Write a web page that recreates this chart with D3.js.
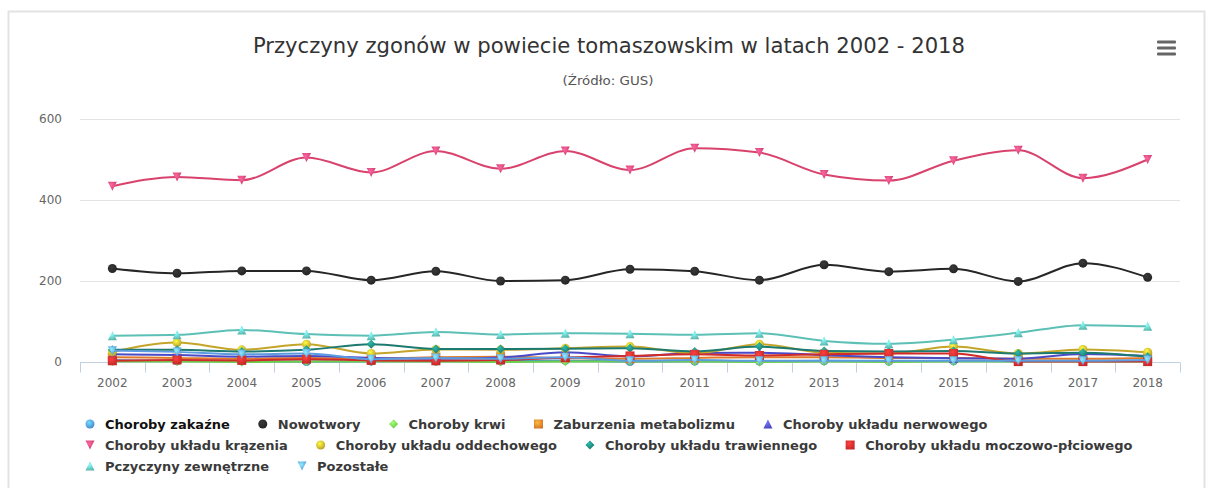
<!DOCTYPE html>
<html lang="pl">
<head>
<meta charset="utf-8">
<title>Przyczyny zgonów</title>
<script src="https://cdn.jsdelivr.net/npm/d3@7"></script>
<style>
  body { margin: 0; background: #fff; }
  svg { display: block; }
</style>
</head>
<body>
<script>
// Data
var years = ["2002","2003","2004","2005","2006","2007","2008","2009","2010","2011","2012","2013","2014","2015","2016","2017","2018"];
var yTicks = [0, 200, 400, 600];

var seriesNames = ["Choroby zakaźne", "Nowotwory", "Choroby krwi", "Zaburzenia metabolizmu", "Choroby układu nerwowego",
  "Choroby układu krązenia", "Choroby układu oddechowego", "Choroby układu trawiennego", "Choroby układu moczowo-płciowego",
  "Pczyczyny zewnętrzne", "Pozostałe"];

var zakazne      = [5, 3, 3, 1, 2, 2, 3, 4, 1, 2, 2, 3, 2, 3, 2, 3, 3];
var nowotwory    = [231, 219, 225, 225, 202, 224, 200, 202, 229, 224, 202, 240, 223, 230, 199, 244, 209];
var krwi         = [1, 1, 0, 1, 1, 1, 0, 1, 1, 1, 0, 1, 0, 1, 1, 1, 1];
var metabolizm   = [12, 10, 8, 10, 8, 12, 13, 10, 8, 10, 12, 12, 10, 10, 8, 8, 10];
var nerwowy      = [19, 17, 13, 15, 10, 8, 11, 24, 14, 22, 23, 17, 12, 9, 8, 20, 15];
var krazenie     = [434, 457, 449, 505, 468, 521, 477, 521, 474, 528, 517, 463, 448, 497, 523, 454, 500];
var oddechowy    = [25, 48, 30, 44, 21, 31, 30, 34, 38, 21, 44, 23, 21, 38, 21, 31, 24];
var trawienny    = [30, 30, 26, 30, 44, 32, 32, 33, 34, 26, 38, 27, 26, 27, 21, 23, 13];
var moczowy      = [3, 5, 4, 7, 4, 3, 5, 11, 15, 19, 16, 19, 21, 21, 1, 1, 1];
var zewnetrzne   = [65, 67, 79, 69, 65, 74, 68, 71, 70, 67, 71, 52, 45, 55, 72, 91, 88];
var pozostale    = [28, 25, 19, 21, 7, 10, 8, 12, 3, 5, 3, 3, 3, 3, 3, 3, 5];

var seriesValues = [zakazne, nowotwory, krwi, metabolizm, nerwowy, krazenie, oddechowy, trawienny, moczowy, zewnetrzne, pozostale];
var seriesColors = ["#4a8fd8", "#262626", "#6ccf4a", "#e07a2a", "#4a4ac8", "#d8426c", "#c4a52a", "#1d7a70", "#d02a2a", "#5cc0b6", "#5b9be0"];
var seriesSymbols = ["circle", "circle", "diamond", "square", "triangle", "triangle-down", "circle", "diamond", "square", "triangle", "triangle-down"];

var W = 1210, H = 488;
var svg = d3.select("body").append("svg").attr("width", W).attr("height", H)
  .style("font-family", "'DejaVu Sans', sans-serif");

// frame
svg.append("rect").attr("x", 8.5).attr("y", 11.5).attr("width", 1196).attr("height", 500)
  .attr("fill", "#fff").attr("stroke", "#e3e3e3").attr("stroke-width", 2);

// gradients for markers
var defs = svg.append("defs");
seriesColors.forEach(function(c, i) {
  var g = defs.append("radialGradient").attr("id", "grad" + i)
    .attr("cx", "0.4").attr("cy", "0.35").attr("r", "0.7");
  g.append("stop").attr("offset", "0%").attr("stop-color", d3.color(c).brighter(1.2));
  g.append("stop").attr("offset", "100%").attr("stop-color", d3.color(c).darker(0.2));
});

function symbolPath(type, r) {
  if (type === "circle") return "M" + (-r) + ",0A" + r + "," + r + " 0 1,0 " + r + ",0A" + r + "," + r + " 0 1,0 " + (-r) + ",0Z";
  if (type === "diamond") return "M0," + (-r) + "L" + r + ",0L0," + r + "L" + (-r) + ",0Z";
  if (type === "square") return "M" + (-r) + "," + (-r) + "H" + r + "V" + r + "H" + (-r) + "Z";
  if (type === "triangle") return "M0," + (-r) + "L" + r + "," + r + "H" + (-r) + "Z";
  return "M" + (-r) + "," + (-r) + "H" + r + "L0," + r + "Z";
}

// title
svg.append("text").attr("x", 609).attr("y", 53).attr("text-anchor", "middle")
  .attr("font-family", "'Liberation Sans Narrow', 'DejaVu Sans Condensed', sans-serif")
  .attr("font-size", "22px").attr("fill", "#333")
  .attr("textLength", 712).attr("lengthAdjust", "spacingAndGlyphs")
  .text("Przyczyny zgonów w powiecie tomaszowskim w latach 2002 - 2018");
svg.append("text").attr("x", 608).attr("y", 85).attr("text-anchor", "middle")
  .attr("font-family", "'Liberation Sans Narrow', 'DejaVu Sans Condensed', sans-serif")
  .attr("font-size", "13px").attr("fill", "#555")
  .attr("textLength", 91).attr("lengthAdjust", "spacingAndGlyphs")
  .text("(Źródło: GUS)");

// menu icon
[42, 48, 54].forEach(function(y) {
  svg.append("rect").attr("x", 1157).attr("y", y - 1.5).attr("width", 19).attr("height", 3)
    .attr("rx", 1).attr("fill", "#666");
});

// scales
var x = d3.scaleBand().domain(years).range([80, 1180]);
var y = d3.scaleLinear().domain([0, 600]).range([362, 119]);
function cx(i) { return x(years[i]) + x.bandwidth() / 2; }

// grid
svg.append("g").selectAll("line").data(yTicks).enter().append("line")
  .attr("x1", 80).attr("x2", 1180)
  .attr("y1", function(d) { return Math.round(y(d)) + 0.5; })
  .attr("y2", function(d) { return Math.round(y(d)) + 0.5; })
  .attr("stroke", "#e3e3e3").attr("stroke-width", 1);

svg.append("g").selectAll("text").data(yTicks).enter().append("text")
  .attr("x", 62).attr("y", function(d) { return y(d) + 4; })
  .attr("text-anchor", "end").attr("font-size", "12px").attr("fill", "#666")
  .text(function(d) { return d; });

// x axis
var xAxis = d3.axisBottom(x).tickSize(0).tickPadding(0);
var gx = svg.append("g").attr("transform", "translate(0," + (Math.round(y(0)) + 0.5) + ")").call(xAxis);
gx.select(".domain").remove();
gx.selectAll("text").attr("font-size", "12px").attr("fill", "#666").attr("dy", "0").attr("y", 24)
  .attr("font-family", "'DejaVu Sans', sans-serif");
gx.append("line").attr("x1", 80).attr("x2", 1180).attr("stroke", "#c0d0e0");
var bounds = years.map(function(d) { return x(d); }).concat([1180]);
gx.selectAll(".tb").data(bounds).enter().append("line").attr("class", "tb")
  .attr("x1", function(d) { return Math.round(d) + 0.5; }).attr("x2", function(d) { return Math.round(d) + 0.5; })
  .attr("y1", 0).attr("y2", 10).attr("stroke", "#c0d0e0");

// series
var line = d3.line().x(function(d, i) { return cx(i); }).y(function(d) { return y(d); })
  .curve(d3.curveMonotoneX);

seriesValues.forEach(function(vals, s) {
  var g = svg.append("g");
  g.append("path").attr("d", line(vals)).attr("fill", "none")
    .attr("stroke", seriesColors[s]).attr("stroke-width", 2);
  g.selectAll("path.m").data(vals).enter().append("path").attr("class", "m")
    .attr("transform", function(d, i) { return "translate(" + cx(i) + "," + y(d) + ")"; })
    .attr("d", symbolPath(seriesSymbols[s], 4.5))
    .attr("fill", "url(#grad" + s + ")");
});

// legend
var lg = svg.append("g").attr("font-size", "13px").attr("font-weight", "bold");
var rowY = [424, 445, 466];
var row = 0, mx = 90, maxRight = 1180;
seriesNames.forEach(function(name, s) {
  var t = lg.append("text").attr("fill", s === 0 ? "#111" : "#3a3a3a").text(name);
  var w = t.node().getComputedTextLength();
  if (mx + 15 + w > maxRight) { row++; mx = 90; }
  t.attr("x", mx + 15).attr("y", rowY[row] + 4.5);
  lg.append("path").attr("transform", "translate(" + mx + "," + rowY[row] + ")")
    .attr("d", symbolPath(seriesSymbols[s], 4.5))
    .attr("fill", "url(#grad" + s + ")");
  mx = mx + 15 + w + 33;
});
</script>
</body>
</html>
